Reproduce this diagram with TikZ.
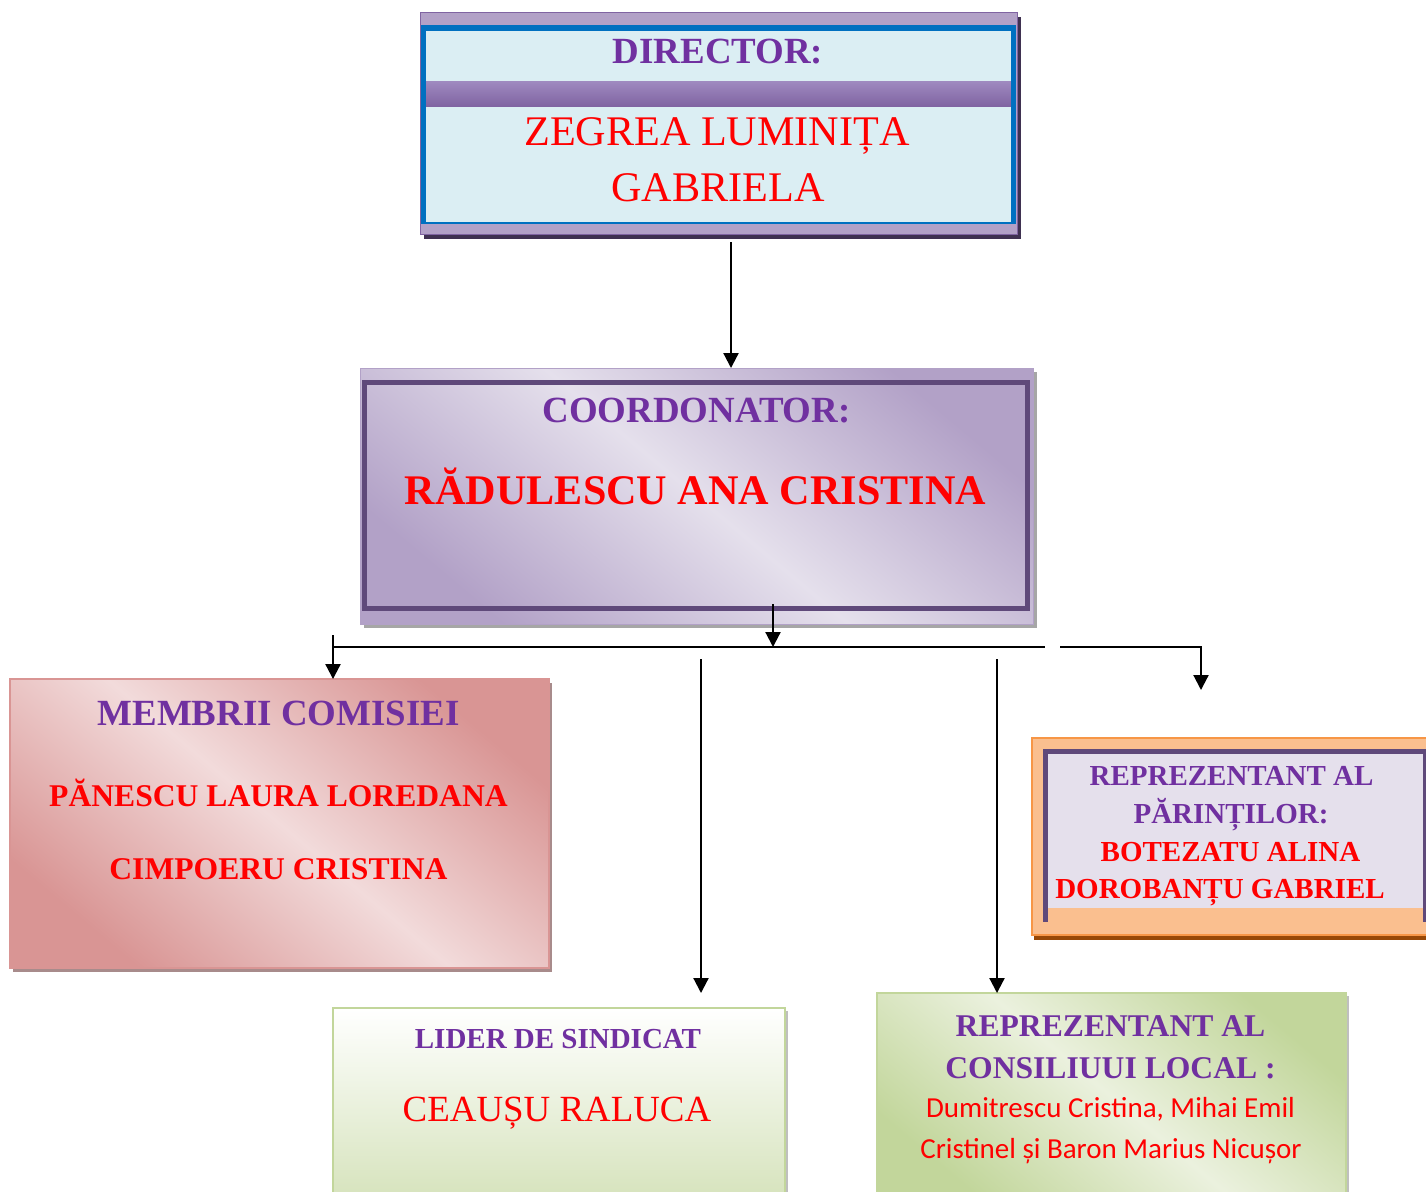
\documentclass[tikz,border=0pt]{standalone}
\usepackage{fontspec}
\setmainfont{Liberation Serif}
\newfontfamily\calibrifont{Carlito}
\usetikzlibrary{calc,arrows.meta,shadows}

\definecolor{tpurple}{HTML}{7030A0}
\definecolor{tred}{HTML}{FF0000}
\definecolor{lavdark}{HTML}{B2A1C7}
\definecolor{lavlight}{HTML}{E5E0EC}
\definecolor{purpleline}{HTML}{5F497A}
\definecolor{dirblue}{HTML}{0070C0}
\definecolor{dirfill}{HTML}{DBEEF3}
\definecolor{dirshadow}{HTML}{3F3151}
\definecolor{bandtop}{HTML}{9F8AC0}
\definecolor{bandbot}{HTML}{8064A2}
\definecolor{pinkdark}{HTML}{D99594}
\definecolor{pinklight}{HTML}{F2DBDB}
\definecolor{orangeline}{HTML}{F79646}
\definecolor{orangefill}{HTML}{FABF8F}
\definecolor{orangeshadow}{HTML}{984806}
\definecolor{greendark}{HTML}{C2D69B}
\definecolor{greenlight}{HTML}{EBF1DE}
\definecolor{greenbot}{HTML}{D6E3BC}

\tikzset{
    box/.style={rectangle, inner sep=0pt, outer sep=0pt},
    arr/.style={line width=1.2pt, -{Triangle[length=0.3cm,width=0.3cm]}},
    bus/.style={line width=1.2pt},
    headtxt/.style={anchor=base, text=tpurple, font=\bfseries\fontsize{#1}{#1}\selectfont},
    nametxt/.style={anchor=base, text=tred, font=\bfseries\fontsize{#1}{#1}\selectfont},
    regtxt/.style={anchor=base, text=tred, font=\fontsize{#1}{#1}\selectfont}
}

\begin{document}
\begin{tikzpicture}[x=0.02cm, y=-0.02cm]
            \useasboundingbox (0,0) rectangle (1426,1191);
            \clip (0,0) rectangle (1426,1191);

            \node (dir) at (718.5,123) [box, fill=lavdark, draw=bandbot, line width=0.5pt, minimum width=11.94cm, minimum height=4.44cm, drop shadow={shadow xshift=0.08cm, shadow yshift=-0.1cm, fill=dirshadow, opacity=1}] {};
            \fill [dirblue] ($(dir.north west) + (1,13)$) rectangle ($(dir.south east) + (-1,-10)$);
            \fill [dirfill] ($(dir.north west) + (6,19)$) rectangle ($(dir.south east) + (-6,-12)$);
            \shade [top color=bandtop, bottom color=bandbot] ($(dir.north west) + (6,69)$) rectangle ($(dir.north east) + (-6,94)$);

            \node (coord) at (696.5,496) [box, top color=lavdark, bottom color=lavdark, middle color=lavlight, shading angle=-40, draw=lavdark, line width=0.5pt, minimum width=13.46cm, minimum height=5.12cm, drop shadow={shadow xshift=0.08cm, shadow yshift=-0.08cm, fill=black!35, opacity=1}] {};
            \draw [purpleline, line width=0.1cm] ($(coord.north west) + (4.5,14.5)$) rectangle ($(coord.south east) + (-5.5,-15.5)$);

            \node (memb) at (279.5,823.5) [box, top color=pinkdark, bottom color=pinkdark, middle color=pinklight, shading angle=-40, draw=pinkdark, line width=1pt, minimum width=10.78cm, minimum height=5.78cm, drop shadow={shadow xshift=0.06cm, shadow yshift=-0.08cm, fill=pinkdark!60!black!70, opacity=1}] {};

            \node (par) at (1236,836.5) [box, fill=orangefill, draw=orangeline, line width=1.2pt, minimum width=8.16cm, minimum height=3.94cm, drop shadow={shadow xshift=0.04cm, shadow yshift=-0.1cm, fill=orangeshadow, opacity=1}] {};
            \fill [lavlight] ($(par.north west) + (15,15)$) rectangle ($(par.south west) + (392,-27)$);
            \draw [purpleline, line width=0.1cm] ($(par.south west) + (13,-13)$) -- ($(par.north west) + (13,13)$) -- ($(par.north west) + (393,13)$) -- ($(par.south west) + (393,-13)$);

            \node (lid) at (559,1104) [box, top color=white, bottom color=greenbot, draw=greendark, line width=1.2pt, minimum width=9.04cm, minimum height=3.84cm, drop shadow={shadow xshift=0.06cm, shadow yshift=-0.06cm, fill=black!25, opacity=1}] {};

            \node (cons) at (1111.5,1096.5) [box, top color=greendark, bottom color=greendark, middle color=greenlight, shading angle=-40, draw=greendark, line width=1.2pt, minimum width=9.38cm, minimum height=4.14cm, drop shadow={shadow xshift=0.06cm, shadow yshift=-0.06cm, fill=black!25, opacity=1}] {};

            \node (dir-t) at (718,63) [headtxt=21] {DIRECTOR:};
            \node (dir-n1) at (717,145) [regtxt=24] {ZEGREA LUMINIȚA};
            \node (dir-n2) at (718,201) [regtxt=24] {GABRIELA};

            \node (coord-t) at (696.5,422) [headtxt=21] {COORDONATOR:};
            \node (coord-n) at (695.5,504) [nametxt=24] {RĂDULESCU ANA CRISTINA};

            \node (memb-t) at (278.5,725) [headtxt=21] {MEMBRII COMISIEI};
            \node (memb-n1) at (278.5,806) [nametxt=18] {PĂNESCU LAURA LOREDANA};
            \node (memb-n2) at (278.5,879) [nametxt=18] {CIMPOERU CRISTINA};

            \node (par-t1) at (1231.5,785) [headtxt=16.5] {REPREZENTANT AL};
            \node (par-t2) at (1231,823) [headtxt=16.5] {PĂRINȚILOR:};
            \node (par-n1) at (1230.5,861) [nametxt=16.5] {BOTEZATU ALINA};
            \node (par-n2) at (1220,898) [nametxt=16.5] {DOROBANȚU GABRIEL};

            \node (lid-t) at (558,1048) [headtxt=16.5] {LIDER DE SINDICAT};
            \node (lid-n) at (557,1121) [regtxt=21] {CEAUȘU RALUCA};

            \node (cons-t1) at (1110.5,1036) [headtxt=18] {REPREZENTANT AL};
            \node (cons-t2) at (1110.5,1078) [headtxt=18] {CONSILIUUI LOCAL :};
            \node (cons-n1) at (1110.5,1117) [regtxt=16.5, font=\calibrifont\fontsize{16.5}{16.5}\selectfont] {Dumitrescu Cristina, Mihai Emil};
            \node (cons-n2) at (1111,1158) [regtxt=16.5, font=\calibrifont\fontsize{16.5}{16.5}\selectfont] {Cristinel și Baron Marius Nicușor};

            \coordinate (d-out) at (731,242);
            \coordinate (c-out) at (773,604);
            \coordinate (bus-l) at (333,647);
            \coordinate (bus-m) at (1045,647);
            \coordinate (bus-n) at (1060,647);
            \coordinate (bus-r) at (1201,647);
            \coordinate (par-in) at (1201,690);
            \coordinate (lid-top) at (701,659);
            \coordinate (lid-in) at (701,993);
            \coordinate (cons-top) at (997,659);

            \draw [arr] (d-out) -- (d-out |- coord.north);
            \draw [arr] (c-out) -- (c-out |- bus-l);
            \draw [bus] (bus-l) -- (bus-m);
            \draw [arr] (bus-n) -- (bus-r) -- (par-in);
            \draw [arr] ($(bus-l) + (0,-12)$) -- (bus-l |- memb.north);
            \draw [arr] (lid-top) -- (lid-in);
            \draw [arr] (cons-top) -- (cons-top |- cons.north);

        \end{tikzpicture}
\end{document}
